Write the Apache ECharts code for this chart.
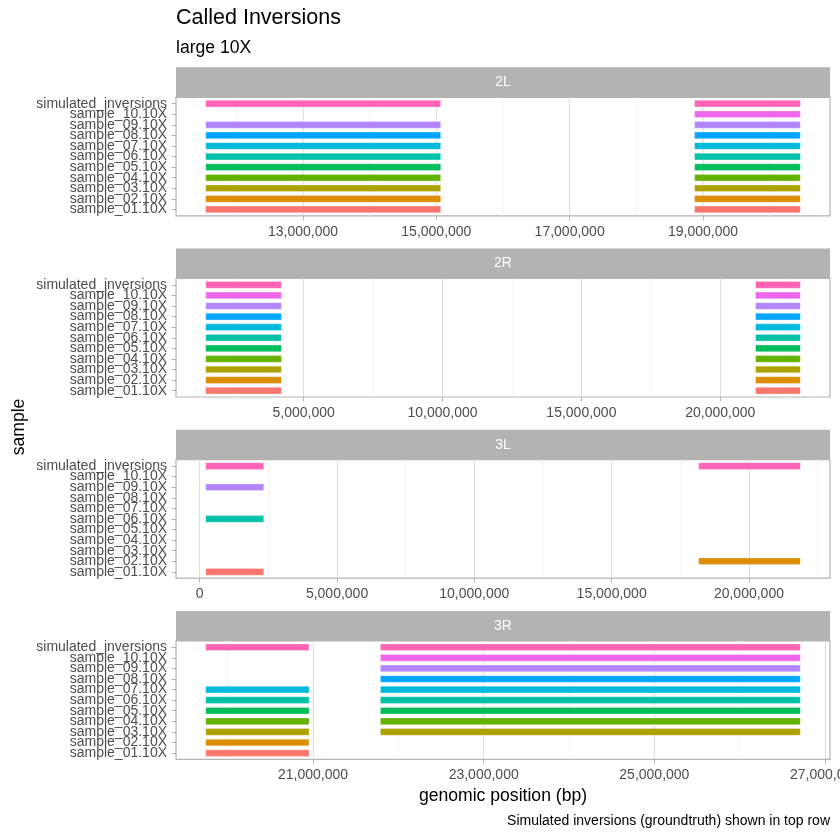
<!DOCTYPE html>
<html>
<head>
<meta charset="utf-8">
<script src="https://cdn.jsdelivr.net/npm/echarts@6/dist/echarts.min.js"></script>
<style>html,body{margin:0;padding:0;background:#fff}#c{width:840px;height:840px}</style>
</head>
<body>
<div id="c"></div>
<script>
// ---- data ----
const samples = ['sample_01.10X','sample_02.10X','sample_03.10X','sample_04.10X','sample_05.10X',
  'sample_06.10X','sample_07.10X','sample_08.10X','sample_09.10X','sample_10.10X','simulated_inversions'];
const sampleColors = ['#F8766D','#DB8E00','#AEA200','#64B200','#00BD5C','#00C1A7','#00BADE','#00A6FF','#B385FF','#EF67EB','#FF63B6'];
const chromosomes = ['2L','2R','3L','3R'];

// [sample, start, end]
const calls2L = [
  ['simulated_inversions',11540000,15065000],['sample_09.10X',11540000,15065000],['sample_08.10X',11540000,15065000],
  ['sample_07.10X',11540000,15065000],['sample_06.10X',11540000,15065000],['sample_05.10X',11540000,15065000],
  ['sample_04.10X',11540000,15065000],['sample_03.10X',11540000,15065000],['sample_02.10X',11540000,15065000],
  ['sample_01.10X',11540000,15065000],
  ['simulated_inversions',18875000,20460000],['sample_10.10X',18875000,20460000],['sample_09.10X',18875000,20460000],
  ['sample_08.10X',18875000,20460000],['sample_07.10X',18875000,20460000],['sample_06.10X',18875000,20460000],
  ['sample_05.10X',18875000,20460000],['sample_04.10X',18875000,20460000],['sample_03.10X',18875000,20460000],
  ['sample_02.10X',18875000,20460000],['sample_01.10X',18875000,20460000]
];
const calls2R = [
  ['simulated_inversions',1475000,4200000],['sample_10.10X',1475000,4200000],['sample_09.10X',1475000,4200000],
  ['sample_08.10X',1475000,4200000],['sample_07.10X',1475000,4200000],['sample_06.10X',1475000,4200000],
  ['sample_05.10X',1475000,4200000],['sample_04.10X',1475000,4200000],['sample_03.10X',1475000,4200000],
  ['sample_02.10X',1475000,4200000],['sample_01.10X',1475000,4200000],
  ['simulated_inversions',21270000,22880000],['sample_10.10X',21270000,22880000],['sample_09.10X',21270000,22880000],
  ['sample_08.10X',21270000,22880000],['sample_07.10X',21270000,22880000],['sample_06.10X',21270000,22880000],
  ['sample_05.10X',21270000,22880000],['sample_04.10X',21270000,22880000],['sample_03.10X',21270000,22880000],
  ['sample_02.10X',21270000,22880000],['sample_01.10X',21270000,22880000]
];
const calls3L = [
  ['simulated_inversions',218000,2330000],['sample_09.10X',218000,2330000],['sample_06.10X',218000,2330000],
  ['sample_01.10X',218000,2330000],
  ['simulated_inversions',18170000,21870000],['sample_02.10X',18170000,21870000]
];
const calls3R = [
  ['simulated_inversions',19743000,20953000],['sample_07.10X',19743000,20953000],['sample_06.10X',19743000,20953000],
  ['sample_05.10X',19743000,20953000],['sample_04.10X',19743000,20953000],['sample_03.10X',19743000,20953000],
  ['sample_02.10X',19743000,20953000],['sample_01.10X',19743000,20953000],
  ['simulated_inversions',21790000,26710000],['sample_10.10X',21790000,26710000],['sample_09.10X',21790000,26710000],
  ['sample_08.10X',21790000,26710000],['sample_07.10X',21790000,26710000],['sample_06.10X',21790000,26710000],
  ['sample_05.10X',21790000,26710000],['sample_04.10X',21790000,26710000],['sample_03.10X',21790000,26710000]
];
const majorTicks = [
  [13000000,15000000,17000000,19000000],
  [5000000,10000000,15000000,20000000],
  [0,5000000,10000000,15000000,20000000],
  [21000000,23000000,25000000,27000000]
];
const minorTicks = [
  [12000000,14000000,16000000,18000000,20000000],
  [2500000,7500000,12500000,17500000,22500000],
  [2500000,7500000,12500000,17500000,22500000],
  [20000000,22000000,24000000,26000000]
];
const allCalls = [calls2L, calls2R, calls3L, calls3R];

// ---- chart ----
const FONT = '"Liberation Sans", Arial, Helvetica, sans-serif';
const plotLeft = 176, plotWidth = 654, plotH = 118.5, stripH = 30;
const tops = [97.3, 278.5, 459.7, 640.9];
const fmt = v => Math.round(v).toLocaleString('en-US');
const evenIdx = samples.map((s, k) => k).filter(k => k % 2 === 0);
const oddIdx = samples.map((s, k) => k).filter(k => k % 2 === 1);

function yAxisDef(i, vals) {
  return {gridIndex: i, type: 'value', min: -0.6, max: samples.length - 1 + 0.6, position: 'left', offset: 0,
    axisLine: {show: false, onZero: false},
    axisTick: {show: true, length: 4.4, lineStyle: {color: '#B3B3B3', width: 1}, customValues: vals},
    axisLabel: {show: true, customValues: vals, formatter: v => samples[Math.round(v)],
      color: '#4D4D4D', fontSize: 14, fontFamily: FONT, margin: 9,
      showMinLabel: true, showMaxLabel: true, hideOverlap: false},
    splitLine: {show: false}
  };
}

const grids = [], xAxes = [], yAxes = [], series = [], graphics = [];
allCalls.forEach((calls, i) => {
  let lo = Infinity, hi = -Infinity;
  calls.forEach(c => { lo = Math.min(lo, c[1]); hi = Math.max(hi, c[2]); });
  const pad = (hi - lo) * 0.05;
  const xmin = lo - pad, xmax = hi + pad;
  grids.push({left: plotLeft, top: tops[i], width: plotWidth, height: plotH, show: true,
    borderColor: '#B3B3B3', borderWidth: 1.2, backgroundColor: '#fff', containLabel: false,
    outerBoundsMode: 'none'});
  // major axis
  xAxes.push({gridIndex: i, type: 'value', min: xmin, max: xmax, position: 'bottom',
    axisLine: {show: false, onZero: false},
    axisTick: {show: true, length: 4.4, lineStyle: {color: '#B3B3B3', width: 1}, customValues: majorTicks[i]},
    axisLabel: {show: true, customValues: majorTicks[i], formatter: fmt, color: '#4D4D4D', fontSize: 14, fontFamily: FONT,
      margin: 9, showMinLabel: true, showMaxLabel: true, hideOverlap: false},
    splitLine: {show: true, lineStyle: {color: '#DEDEDE', width: 1}}
  });
  // minor grid axis
  xAxes.push({gridIndex: i, type: 'value', min: xmin, max: xmax, position: 'bottom',
    axisLine: {show: false, onZero: false},
    axisTick: {show: false, customValues: minorTicks[i]},
    axisLabel: {show: false},
    splitLine: {show: true, lineStyle: {color: '#EFEFEF', width: 0.8}}
  });
  // labels split over two axes so neighbouring labels are never auto-hidden
  yAxes.push(yAxisDef(i, evenIdx));
  yAxes.push(yAxisDef(i, oddIdx));
  series.push({
    type: 'custom', xAxisIndex: i * 2, yAxisIndex: i * 2,
    encode: {x: [1, 2], y: 0},
    data: calls.map(c => [samples.indexOf(c[0]), c[1], c[2]]),
    renderItem: (params, api) => {
      const y = api.value(0);
      const p1 = api.coord([api.value(1), y]);
      const p2 = api.coord([api.value(2), y]);
      const h = api.size([0, 1])[1] * 0.63;
      return {type: 'rect', shape: {x: p1[0], y: p1[1] - h / 2, width: p2[0] - p1[0], height: h},
        style: {fill: sampleColors[y], stroke: 'rgba(255,255,255,0.5)', lineWidth: 0.6}};
    },
    silent: true, animation: false
  });
  graphics.push({type: 'rect', shape: {x: plotLeft, y: tops[i] - stripH, width: plotWidth, height: stripH},
    style: {fill: '#B3B3B3'}, silent: true});
  graphics.push({type: 'text', x: plotLeft + plotWidth / 2, y: tops[i] - stripH / 2,
    style: {text: chromosomes[i], fill: '#fff', fontSize: 14, fontFamily: FONT, align: 'center', verticalAlign: 'middle'}});
});

graphics.push({type: 'text', x: 176, y: 18, style: {text: 'Called Inversions', fill: '#000', fontSize: 21.5, fontFamily: FONT, align: 'left', verticalAlign: 'middle'}});
graphics.push({type: 'text', x: 176, y: 48, style: {text: 'large 10X', fill: '#000', fontSize: 17.6, fontFamily: FONT, align: 'left', verticalAlign: 'middle'}});
graphics.push({type: 'text', x: 19, y: 427, rotation: Math.PI / 2, style: {text: 'sample', fill: '#000', fontSize: 17.6, fontFamily: FONT, align: 'center', verticalAlign: 'middle'}});
graphics.push({type: 'text', x: 503, y: 796, style: {text: 'genomic position (bp)', fill: '#000', fontSize: 17.6, fontFamily: FONT, align: 'center', verticalAlign: 'middle'}});
graphics.push({type: 'text', x: 830, y: 821, style: {text: 'Simulated inversions (groundtruth) shown in top row', fill: '#000', fontSize: 14, fontFamily: FONT, align: 'right', verticalAlign: 'middle'}});

const chart = echarts.init(document.getElementById('c'), null, {renderer: 'canvas'});
chart.setOption({
  animation: false,
  backgroundColor: '#fff',
  grid: grids, xAxis: xAxes, yAxis: yAxes, series: series,
  graphic: {elements: graphics}
});
</script>
</body>
</html>
